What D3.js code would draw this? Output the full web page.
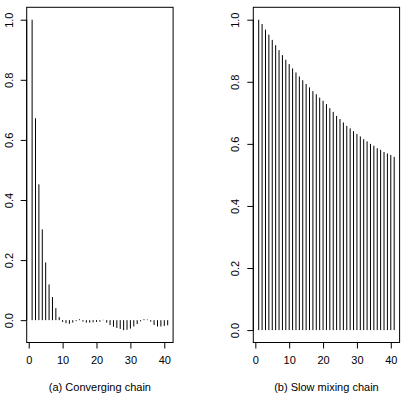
<!DOCTYPE html>
<html>
<head>
<meta charset="utf-8">
<script src="https://cdn.jsdelivr.net/npm/d3@7"></script>
<style>
  body { margin: 0; background: #fff; }
  svg text { font-family: "Liberation Sans", Arial, sans-serif; fill: #000; }
</style>
</head>
<body>
<svg id="chart" width="405" height="393"></svg>
<script>
// autocorrelation values, lag 1..41
const acfConverging = [1.0, 0.672, 0.452, 0.302, 0.192, 0.119, 0.077, 0.040, 0.010, -0.006,
  -0.010, -0.012, -0.008, -0.003, 0.003, -0.005, -0.008, -0.008, -0.007, -0.006,
  -0.005, 0.001, -0.008, -0.016, -0.022, -0.026, -0.029, -0.033, -0.032, -0.028,
  -0.021, -0.013, -0.004, 0.003, 0.002, -0.005, -0.016, -0.021, -0.021, -0.019, -0.017];
const acfSlow = [1.000, 0.986, 0.968, 0.952, 0.935, 0.918, 0.902, 0.886, 0.871, 0.857,
  0.843, 0.830, 0.817, 0.805, 0.793, 0.782, 0.770, 0.760, 0.749, 0.739,
  0.728, 0.715, 0.703, 0.690, 0.680, 0.669, 0.658, 0.650, 0.641, 0.632,
  0.624, 0.615, 0.608, 0.600, 0.594, 0.586, 0.581, 0.574, 0.569, 0.564, 0.558];
const xTicks = [0, 10, 20, 30, 40];
const yTicks = [0.0, 0.2, 0.4, 0.6, 0.8, 1.0];
const titles = ["(a) Converging chain", "(b) Slow mixing chain"];

const svg = d3.select("#chart");
const panels = [
  { values: acfConverging, left: 26.7, right: 173.1, title: titles[0] },
  { values: acfSlow, left: 253.3, right: 399.6, title: titles[1] }
];
const boxTop = 7.3, boxBottom = 342.5;

// R style: extend data range by 4% on each side
function ext(lo, hi) {
  const d = (hi - lo) * 0.04;
  return [lo - d, hi + d];
}

panels.forEach(p => {
  const data = p.values.map((v, i) => ({ lag: i + 1, v: v }));
  const x = d3.scaleLinear()
    .domain(ext(1, data.length))
    .range([p.left, p.right]);
  const y = d3.scaleLinear()
    .domain(ext(Math.min(0, d3.min(p.values)), d3.max(p.values)))
    .range([boxBottom, boxTop]);
  const g = svg.append("g");

  g.selectAll("line.bar")
    .data(data)
    .join("line")
    .attr("class", "bar")
    .attr("x1", d => x(d.lag))
    .attr("x2", d => x(d.lag))
    .attr("y1", y(0))
    .attr("y2", d => y(d.v))
    .attr("stroke", "#000")
    .attr("stroke-width", 1);

  g.append("rect")
    .attr("x", p.left)
    .attr("y", boxTop)
    .attr("width", p.right - p.left)
    .attr("height", boxBottom - boxTop)
    .attr("fill", "none")
    .attr("stroke", "#000");

  const xa = g.append("g")
    .attr("transform", `translate(0,${boxBottom})`)
    .call(d3.axisBottom(x).tickValues(xTicks).tickSize(6).tickPadding(8).tickFormat(d3.format("d")));
  xa.select(".domain").attr("d", `M${x(0)},0H${x(40)}`);
  xa.selectAll("text").style("font-size", "11px").attr("dy", "0.71em");

  const ya = g.append("g")
    .attr("transform", `translate(${p.left},0)`)
    .call(d3.axisLeft(y).tickValues(yTicks).tickSize(6).tickFormat(d3.format(".1f")));
  ya.select(".domain").attr("d", `M0,${y(0)}V${y(1)}`);
  ya.selectAll("text")
    .style("font-size", "11px")
    .attr("x", null).attr("dy", null)
    .attr("text-anchor", "middle")
    .attr("dominant-baseline", "central")
    .attr("transform", "translate(-18,0) rotate(-90)");

  g.append("text")
    .attr("x", (p.left + p.right) / 2)
    .attr("y", 386.5)
    .attr("text-anchor", "middle")
    .attr("dominant-baseline", "central")
    .style("font-size", "11px")
    .text(p.title);
});
</script>
</body>
</html>
